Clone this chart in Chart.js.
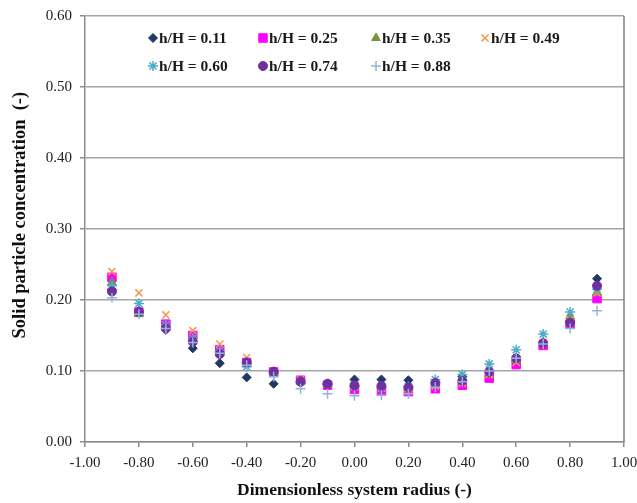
<!DOCTYPE html>
<html lang="en">
<head>
    <meta charset="UTF-8">
    <title>Solid particle concentration</title>
    <script src="https://cdn.jsdelivr.net/npm/chart.js"></script>
    <style>
        body {
            margin: 0;
            background-color: #ffffff;
        }
        #wrap {
            width: 637px;
            height: 503px;
        }
    </style>
</head>
<body>
    <div id="wrap">
        <canvas id="myChart" width="637" height="503"></canvas>
    </div>

    <script>
        // radial positions (dimensionless radius)
        const radius = [-0.9, -0.8, -0.7, -0.6, -0.5, -0.4, -0.3, -0.2, -0.1, 0.0, 0.1, 0.2, 0.3, 0.4, 0.5, 0.6, 0.7, 0.8, 0.9];

        const seriesNames = ['h/H = 0.11', 'h/H = 0.25', 'h/H = 0.35', 'h/H = 0.49', 'h/H = 0.60', 'h/H = 0.74', 'h/H = 0.88'];

        // concentration values
        const h011 = [0.215, 0.185, 0.158, 0.132, 0.111, 0.091, 0.082, 0.083, 0.081, 0.088, 0.088, 0.087, 0.084, 0.092, 0.100, 0.115, 0.138, 0.170, 0.230];
        const h025 = [0.232, 0.183, 0.166, 0.150, 0.130, 0.112, 0.099, 0.087, 0.080, 0.074, 0.072, 0.071, 0.075, 0.080, 0.090, 0.109, 0.136, 0.166, 0.202];
        const h035 = [0.225, 0.180, 0.162, 0.145, 0.125, 0.110, 0.097, 0.085, 0.081, 0.078, 0.076, 0.075, 0.080, 0.085, 0.095, 0.115, 0.140, 0.177, 0.210];
        const h049 = [0.240, 0.210, 0.179, 0.157, 0.138, 0.119, 0.100, 0.088, 0.082, 0.078, 0.076, 0.075, 0.079, 0.083, 0.095, 0.112, 0.140, 0.172, 0.210];
        const h060 = [0.220, 0.195, 0.165, 0.146, 0.128, 0.106, 0.096, 0.085, 0.082, 0.079, 0.077, 0.078, 0.088, 0.095, 0.110, 0.130, 0.152, 0.183, 0.215];
        const h074 = [0.212, 0.183, 0.160, 0.141, 0.124, 0.112, 0.099, 0.085, 0.082, 0.080, 0.079, 0.077, 0.083, 0.086, 0.099, 0.118, 0.139, 0.168, 0.220];
        const h088 = [0.203, 0.180, 0.160, 0.140, 0.125, 0.108, 0.092, 0.075, 0.068, 0.065, 0.066, 0.068, 0.077, 0.085, 0.100, 0.118, 0.138, 0.160, 0.185];

        const allSeries = [h011, h025, h035, h049, h060, h074, h088];

        // marker look for each series
        const markers = [
            { style: 'rectRot',  r: 4.5, color: '#1f3864', fill: true },
            { style: 'rect',     r: 6,   color: '#ff00ff', fill: true },
            { style: 'triangle', r: 5,   color: '#77933c', fill: true },
            { style: 'crossRot', r: 5,   color: '#f79646', fill: false },
            { style: 'star',     r: 5,   color: '#4bacc6', fill: false },
            { style: 'circle',   r: 4.5, color: '#7030a0', fill: true },
            { style: 'cross',    r: 5,   color: '#95b3d7', fill: false }
        ];

        const datasets = allSeries.map((vals, i) => ({
            label: seriesNames[i],
            data: vals.map((v, k) => ({ x: radius[k], y: v })),
            pointStyle: markers[i].style,
            pointRadius: markers[i].r,
            pointHoverRadius: markers[i].r,
            backgroundColor: markers[i].color,
            borderColor: markers[i].color,
            borderWidth: markers[i].fill ? 1 : 1.5,
            showLine: false,
            order: allSeries.length - i   // later series on top, like Excel
        }));

        const serif = "'Liberation Serif', 'Times New Roman', serif";

        function fmt(v) {
            if (Math.abs(v) < 1e-9) v = 0;
            return v.toFixed(2);
        }

        // legend drawn inside the plot, 4 columns x 2 rows
        const insideLegend = {
            id: 'insideLegend',
            afterDraw(chart) {
                const ctx = chart.ctx;
                const area = chart.chartArea;
                const colX = [68, 178, 291, 400];
                const rowY = [22, 50];
                ctx.save();
                ctx.font = 'bold 15.5px ' + serif;
                ctx.textBaseline = 'middle';
                seriesNames.forEach((name, i) => {
                    const x = area.left + colX[i % 4];
                    const y = area.top + rowY[Math.floor(i / 4)];
                    const m = markers[i];
                    const bw = m.fill ? 1 : 1.5;
                    ctx.fillStyle = m.color;
                    ctx.strokeStyle = m.color;
                    ctx.lineWidth = bw;
                    Chart.helpers.drawPoint(ctx, { pointStyle: m.style, radius: m.r, rotation: 0, borderWidth: bw }, x, y);
                    ctx.fillStyle = '#1a1a1a';
                    ctx.fillText(name, x + 6, y + 1);
                });
                ctx.restore();
            }
        };

        // right-hand frame line of the plot area
        const frame = {
            id: 'frame',
            beforeDatasetsDraw(chart) {
                const ctx = chart.ctx;
                const a = chart.chartArea;
                ctx.save();
                ctx.strokeStyle = '#7f7f7f';
                ctx.lineWidth = 1.5;
                ctx.beginPath();
                ctx.moveTo(a.right, a.top);
                ctx.lineTo(a.right, a.bottom);
                ctx.stroke();
                ctx.restore();
            }
        };

        const ctx = document.getElementById('myChart').getContext('2d');
        const myChart = new Chart(ctx, {
            type: 'scatter',
            data: { datasets: datasets },
            options: {
                responsive: false,
                animation: false,
                layout: { padding: { top: 16, right: 13, left: 0, bottom: 0 } },
                plugins: {
                    legend: { display: false },
                    tooltip: { enabled: false }
                },
                scales: {
                    x: {
                        type: 'linear',
                        min: -1,
                        max: 1,
                        afterFit(scale) {
                            scale.height = 61;
                            scale.paddingLeft = 0;
                            scale.paddingRight = 0;
                        },
                        ticks: {
                            stepSize: 0.2,
                            padding: 7,
                            color: '#222',
                            font: { family: serif, size: 15 },
                            callback: v => fmt(v)
                        },
                        grid: {
                            drawOnChartArea: false,
                            drawTicks: true,
                            tickLength: 5,
                            color: '#8c8c8c',
                            lineWidth: 1.5
                        },
                        border: { color: '#8c8c8c', width: 1.5 },
                        title: {
                            display: true,
                            text: 'Dimensionless system radius (-)',
                            color: '#111',
                            font: { family: serif, size: 17.5, weight: 'bold' },
                            padding: { top: 0, bottom: 2 }
                        }
                    },
                    y: {
                        min: 0,
                        max: 0.6,
                        afterFit(scale) {
                            scale.width = 85;
                            scale.paddingTop = 0;
                            scale.paddingBottom = 0;
                        },
                        ticks: {
                            stepSize: 0.1,
                            padding: 8,
                            color: '#222',
                            font: { family: serif, size: 15 },
                            callback: v => fmt(v)
                        },
                        grid: {
                            color: '#a6a6a6',
                            lineWidth: 1.5,
                            tickLength: 5,
                            tickColor: '#8c8c8c'
                        },
                        border: { color: '#8c8c8c', width: 1.5 },
                        title: {
                            display: true,
                            text: '      Solid particle concentration  (-)',
                            color: '#111',
                            font: { family: serif, size: 18.5, weight: 'bold' },
                            padding: { top: 9, bottom: 0 }
                        }
                    }
                }
            },
            plugins: [frame, insideLegend]
        });
    </script>
</body>
</html>
